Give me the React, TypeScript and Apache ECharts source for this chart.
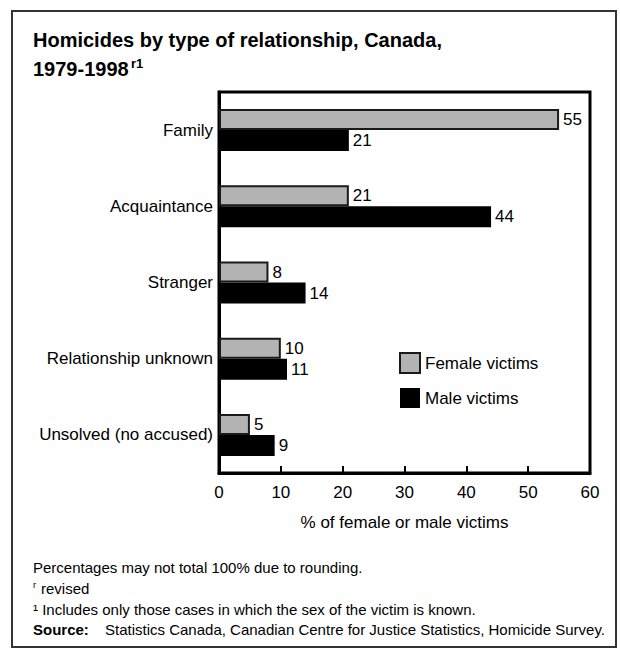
import React, { useEffect, useRef } from "react";
import * as echarts from "echarts";

const categories = ["Family", "Acquaintance", "Stranger", "Relationship unknown", "Unsolved (no accused)"];
const femaleValues = [55, 21, 8, 10, 5];
const maleValues = [21, 44, 14, 11, 9];
const seriesNames = ["Female victims", "Male victims"];
const xTicks = { min: 0, max: 60, interval: 10 };

const FONT = "'Liberation Sans', Arial, sans-serif";

export default function App() {
  const ref = useRef<HTMLDivElement>(null);
  useEffect(() => {
    if (!ref.current) return;
    const chart = echarts.init(ref.current, undefined, { renderer: "svg" });
    chart.setOption({
      animation: false,
      backgroundColor: "#ffffff",
      textStyle: { fontFamily: FONT, color: "#000" },
      grid: {
        left: 219,
        right: 30,
        top: 92,
        bottom: 177,
        show: true,
        borderColor: "#000",
        borderWidth: 3,
        backgroundColor: "transparent",
      },
      legend: {
        orient: "vertical",
        left: 394,
        top: 347,
        itemWidth: 20,
        itemHeight: 20,
        itemGap: 14,
        icon: "rect",
        textStyle: { fontFamily: FONT, fontSize: 17, color: "#000", padding: [0, 0, 0, 0] },
        data: seriesNames,
      },
      xAxis: {
        type: "value",
        min: xTicks.min,
        max: xTicks.max,
        interval: xTicks.interval,
        name: "% of female or male victims",
        nameLocation: "middle",
        nameGap: 41,
        nameTextStyle: { fontFamily: FONT, fontSize: 17, color: "#000" },
        axisLine: { show: true, lineStyle: { color: "#000", width: 3 } },
        axisTick: { show: true, inside: true, length: 7, lineStyle: { color: "#000", width: 2 } },
        axisLabel: { fontFamily: FONT, fontSize: 17, color: "#000", margin: 11 },
        splitLine: { show: false },
      },
      yAxis: {
        type: "category",
        inverse: true,
        data: categories,
        axisLine: { show: true, lineStyle: { color: "#000", width: 3 } },
        axisTick: { show: false },
        axisLabel: { fontFamily: FONT, fontSize: 17, color: "#000", margin: 6 },
      },
      series: [
        {
          name: seriesNames[0],
          type: "bar",
          data: femaleValues,
          barWidth: 21,
          barGap: "0%",
          itemStyle: { color: "#b3b3b3", borderColor: "#1a1a1a", borderWidth: 2 },
          label: { show: true, position: "right", distance: 4, fontFamily: FONT, fontSize: 17, color: "#000" },
        },
        {
          name: seriesNames[1],
          type: "bar",
          data: maleValues,
          barWidth: 21,
          barGap: "0%",
          itemStyle: { color: "#000" },
          label: { show: true, position: "right", distance: 4, fontFamily: FONT, fontSize: 17, color: "#000" },
        },
      ],
      graphic: [
        {
          type: "rect",
          shape: { x: 12, y: 11, width: 604, height: 636 },
          style: { fill: "none", stroke: "#333", lineWidth: 2 },
          silent: true,
        },
        {
          type: "text",
          left: 33,
          top: 30,
          style: {
            text: "Homicides by type of relationship, Canada,",
            font: `bold 20px ${FONT}`,
            fill: "#000",
          },
        },
        {
          type: "text",
          left: 33,
          top: 59,
          style: { text: "1979-1998", font: `bold 20px ${FONT}`, fill: "#000" },
        },
        {
          type: "text",
          left: 131,
          top: 57,
          style: { text: "r1", font: `bold 13px ${FONT}`, fill: "#000" },
        },
        {
          type: "text",
          left: 33,
          top: 560,
          style: { text: "Percentages may not total 100% due to rounding.", font: `15px ${FONT}`, fill: "#000" },
        },
        {
          type: "text",
          left: 33,
          top: 580,
          style: { text: "r", font: `9px ${FONT}`, fill: "#000" },
        },
        {
          type: "text",
          left: 41,
          top: 581,
          style: { text: "revised", font: `15px ${FONT}`, fill: "#000" },
        },
        {
          type: "text",
          left: 33,
          top: 602,
          style: { text: "\u00B9 Includes only those cases in which the sex of the victim is known.", font: `15px ${FONT}`, fill: "#000" },
        },
        {
          type: "text",
          left: 33,
          top: 622,
          style: { text: "Source:", font: `bold 15px ${FONT}`, fill: "#000" },
        },
        {
          type: "text",
          left: 105,
          top: 622,
          style: { text: "Statistics Canada, Canadian Centre for Justice Statistics, Homicide Survey.", font: `15px ${FONT}`, fill: "#000" },
        },
      ],
    });
    return () => chart.dispose();
  }, []);
  return (
    <div
      ref={ref}
      style={{ position: "fixed", left: 0, top: 0, width: 620, height: 650 }}
    />
  );
}
